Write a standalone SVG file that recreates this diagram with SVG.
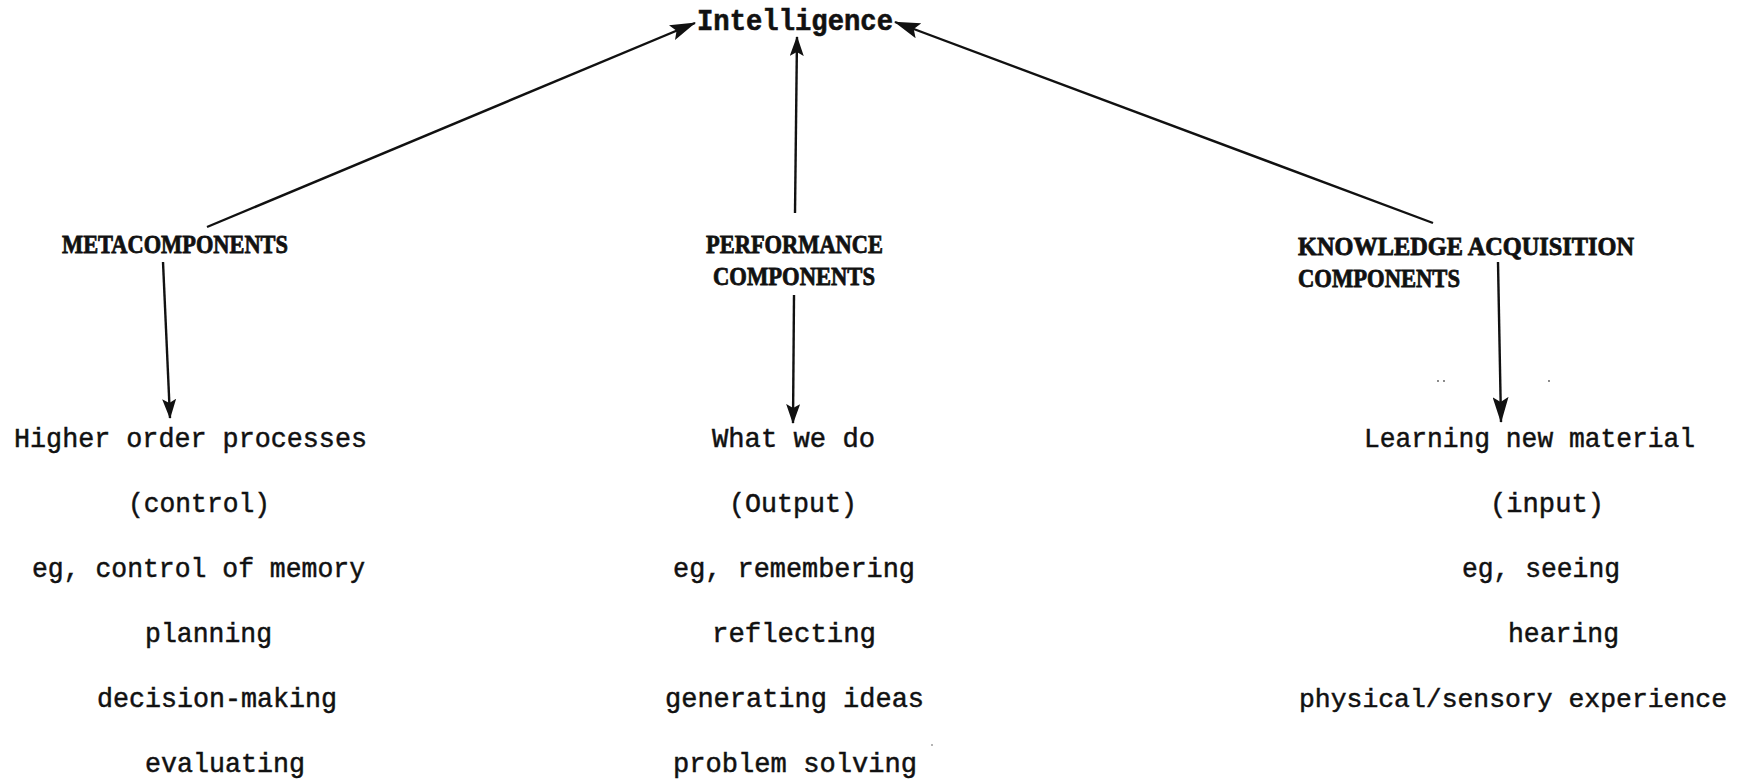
<svg xmlns="http://www.w3.org/2000/svg" width="1744" height="783" viewBox="0 0 1744 783">
  <style>
    .body { font-family: "Liberation Mono", "Courier New", monospace; font-size: 28px; fill: #111; stroke: #111; stroke-width: 0.5; }
    .body.wide { font-size: 26.4px; }
    .head { font-family: "Liberation Serif", "Times New Roman", serif; font-weight: bold; font-size: 26px; fill: #111; stroke: #111; stroke-width: 0.8; }
    .title { font-family: "Liberation Mono", "Courier New", monospace; font-weight: bold; font-size: 29px; fill: #111; stroke: #111; stroke-width: 0.6; }
    .link { stroke: #111; stroke-width: 2.4; fill: none; }
  </style>
  <defs>
    <marker id="head-lg" viewBox="0 0 26 16" refX="25" refY="8" markerWidth="26" markerHeight="16" markerUnits="userSpaceOnUse" orient="auto">
      <path d="M0,0 L26,8 L0,16 L5,8 Z" fill="#111"/>
    </marker>
    <marker id="head-sm" viewBox="0 0 20 14" refX="19" refY="7" markerWidth="20" markerHeight="14" markerUnits="userSpaceOnUse" orient="auto">
      <path d="M0,0 L20,7 L0,14 L4,7 Z" fill="#111"/>
    </marker>
  </defs>

  <!-- connectors -->
  <g id="connectors">
    <path class="link" d="M207,227 L695,23" marker-end="url(#head-lg)"/>
    <path class="link" d="M795,213 L797,37" marker-end="url(#head-sm)"/>
    <path class="link" d="M1433,223 L895,22" marker-end="url(#head-lg)"/>
    <path class="link" d="M163,262 L170,418" marker-end="url(#head-sm)"/>
    <path class="link" d="M794,295 L793,423" marker-end="url(#head-sm)"/>
    <path class="link" d="M1498,262 L1501,422" marker-end="url(#head-lg)"/>
  </g>

  <!-- root -->
  <g id="intelligence">
    <text class="title" x="697" y="30" textLength="196" lengthAdjust="spacingAndGlyphs">Intelligence</text>
  </g>

  <!-- metacomponents column -->
  <g id="metacomponents">
    <text class="head" x="62" y="253" textLength="226" lengthAdjust="spacingAndGlyphs">METACOMPONENTS</text>
  </g>
  <g id="metacomponents-detail">
    <text class="body" x="14" y="447" textLength="353" lengthAdjust="spacingAndGlyphs">Higher order processes</text>
    <text class="body" x="128" y="512" textLength="142" lengthAdjust="spacingAndGlyphs">(control)</text>
    <text class="body" x="32" y="577" textLength="333" lengthAdjust="spacingAndGlyphs">eg, control of memory</text>
    <text class="body" x="145" y="642" textLength="127" lengthAdjust="spacingAndGlyphs">planning</text>
    <text class="body" x="97" y="707" textLength="240" lengthAdjust="spacingAndGlyphs">decision-making</text>
    <text class="body" x="145" y="772" textLength="160" lengthAdjust="spacingAndGlyphs">evaluating</text>
  </g>

  <!-- performance components column -->
  <g id="performance">
    <text class="head" x="706" y="253" textLength="177" lengthAdjust="spacingAndGlyphs">PERFORMANCE</text>
    <text class="head" x="713" y="285" textLength="162" lengthAdjust="spacingAndGlyphs">COMPONENTS</text>
  </g>
  <g id="performance-detail">
    <text class="body" x="712" y="447" textLength="163" lengthAdjust="spacingAndGlyphs">What we do</text>
    <text class="body" x="729" y="512" textLength="128" lengthAdjust="spacingAndGlyphs">(Output)</text>
    <text class="body" x="673" y="577" textLength="242" lengthAdjust="spacingAndGlyphs">eg, remembering</text>
    <text class="body" x="712" y="642" textLength="164" lengthAdjust="spacingAndGlyphs">reflecting</text>
    <text class="body" x="665" y="707" textLength="259" lengthAdjust="spacingAndGlyphs">generating ideas</text>
    <text class="body" x="673" y="772" textLength="244" lengthAdjust="spacingAndGlyphs">problem solving</text>
  </g>

  <!-- knowledge acquisition components column -->
  <g id="knowledge-acquisition">
    <text class="head" x="1298" y="255" textLength="336" lengthAdjust="spacingAndGlyphs">KNOWLEDGE ACQUISITION</text>
    <text class="head" x="1298" y="287" textLength="162" lengthAdjust="spacingAndGlyphs">COMPONENTS</text>
  </g>
  <g id="knowledge-acquisition-detail">
    <text class="body" x="1364" y="447" textLength="331" lengthAdjust="spacingAndGlyphs">Learning new material</text>
    <text class="body" x="1490" y="512" textLength="114" lengthAdjust="spacingAndGlyphs">(input)</text>
    <text class="body" x="1462" y="577" textLength="158" lengthAdjust="spacingAndGlyphs">eg, seeing</text>
    <text class="body" x="1508" y="642" textLength="111" lengthAdjust="spacingAndGlyphs">hearing</text>
    <text class="body wide" x="1299" y="707" textLength="428" lengthAdjust="spacingAndGlyphs">physical/sensory experience</text>
  </g>

  <!-- stray specks on the page -->
  <g id="specks" fill="#555">
    <circle cx="1438" cy="381" r="0.9"/>
    <circle cx="1444" cy="381" r="0.9"/>
    <circle cx="1549" cy="381" r="0.9"/>
    <circle cx="932" cy="745" r="0.8"/>
  </g>
</svg>
